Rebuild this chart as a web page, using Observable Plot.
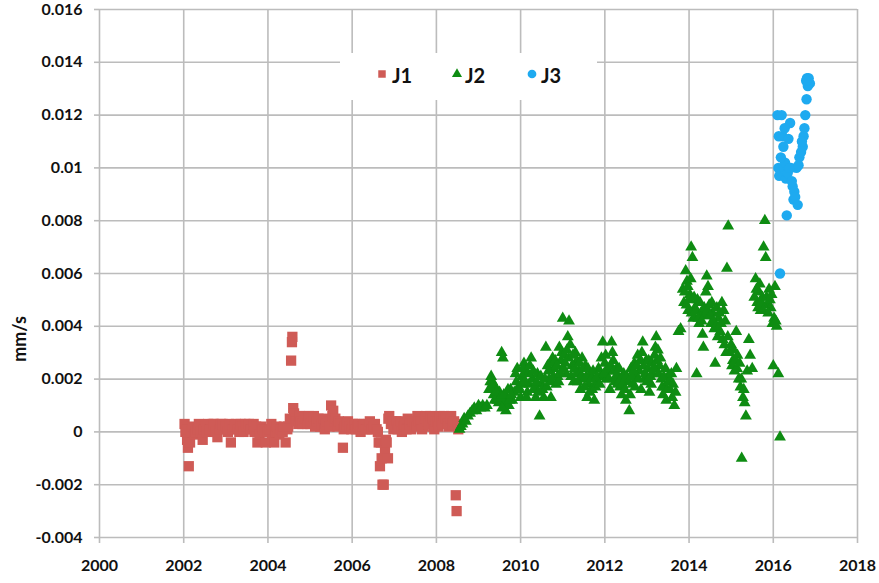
<!DOCTYPE html>
<html>
<head>
<meta charset="utf-8">
<script src="https://cdn.jsdelivr.net/npm/d3@7"></script>
<script src="https://cdn.jsdelivr.net/npm/@observablehq/plot@0.6"></script>
<style>
  html, body { margin: 0; padding: 0; background: #fff; }
  #wrap { position: relative; width: 879px; height: 583px; font-family: Lato, "Open Sans", sans-serif; }
  #ylabel { position: absolute; left: 19px; top: 339px; transform: translate(-50%, -50%) rotate(-90deg);
            font-weight: bold; font-size: 18px; color: #111; white-space: nowrap; }
  #legend { position: absolute; left: 340px; top: 53px; width: 257px; height: 47px; background: #fff; }
  .lg-sym { position: absolute; }
  .lg-txt { position: absolute; font-weight: bold; font-size: 20px; color: #111; line-height: 1; }
</style>
</head>
<body>
<div id="wrap">
  <div id="chart"></div>
  <div id="ylabel">mm/s</div>
  <div id="legend"></div>
</div>
<script>
// ---- Data (year, mm/s) ----
const seriesNames = ["J1", "J2", "J3"];
const seriesColors = ["#cf5b56", "#0e8c12", "#1eaaf0"];

const j1Data = [
  [2002.02,0.0003],[2002.04,0.0000],[2002.06,0.0001],[2002.08,-0.0003],[2002.10,-0.0006],[2002.12,-0.0013],
  [2002.15,-0.0004],[2002.18,0.0000],[2002.22,0.0002],[2002.25,-0.0001],[2002.29,0.0000],[2002.32,0.0001],
  [2002.36,0.0003],[2002.40,0.0000],[2002.45,-0.0003],[2002.48,0.0001],[2002.52,0.0002],[2002.55,0.0000],
  [2002.58,0.0003],[2002.62,0.0001],[2002.65,0.0001],[2002.69,0.0003],[2002.72,0.0003],[2002.76,0.0000],
  [2002.80,-0.0002],[2002.85,0.0001],[2002.88,0.0003],[2002.92,0.0003],[2002.96,0.0001],[2003.00,0.0002],
  [2003.05,0.0000],[2003.08,0.0003],[2003.12,-0.0004],[2003.16,0.0001],[2003.20,0.0002],[2003.24,0.0003],
  [2003.28,0.0001],[2003.32,0.0000],[2003.35,0.0003],[2003.39,0.0002],[2003.42,0.0000],[2003.46,0.0003],
  [2003.50,0.0002],[2003.55,0.0003],[2003.58,0.0001],[2003.62,0.0001],[2003.66,0.0003],[2003.68,0.0000],
  [2003.72,0.0002],[2003.75,-0.0004],[2003.80,-0.0001],[2003.84,0.0002],[2003.88,0.0001],[2003.92,0.0000],
  [2003.95,-0.0004],[2004.00,0.0000],[2004.05,0.0001],[2004.08,0.0003],[2004.10,-0.0003],[2004.15,-0.0004],
  [2004.18,0.0000],[2004.20,0.0002],[2004.24,0.0000],[2004.27,-0.0001],[2004.31,0.0001],[2004.35,0.0000],
  [2004.38,0.0002],[2004.42,-0.0004],[2004.46,0.0001],[2004.48,0.0002],[2004.52,0.0005],[2004.55,0.0027],
  [2004.57,0.0034],[2004.58,0.0036],[2004.60,0.0009],[2004.62,0.0007],[2004.65,0.0005],[2004.68,0.0004],
  [2004.72,0.0003],[2004.75,0.0006],[2004.78,0.0004],[2004.82,0.0003],[2004.86,0.0006],[2004.90,0.0005],
  [2004.94,0.0003],[2004.97,0.0006],[2005.01,0.0003],[2005.05,0.0004],[2005.09,0.0006],[2005.12,0.0002],
  [2005.16,0.0004],[2005.20,0.0005],[2005.24,0.0002],[2005.28,0.0003],[2005.32,0.0005],[2005.35,0.0001],
  [2005.38,0.0003],[2005.42,0.0004],[2005.46,0.0002],[2005.50,0.0010],[2005.53,0.0006],[2005.55,0.0008],
  [2005.58,0.0004],[2005.60,0.0005],[2005.65,0.0002],[2005.68,0.0004],[2005.72,0.0003],[2005.78,-0.0006],
  [2005.80,0.0001],[2005.82,0.0002],[2005.86,0.0003],[2005.90,0.0004],[2005.94,0.0002],[2005.98,0.0001],
  [2006.02,0.0003],[2006.05,0.0003],[2006.09,0.0001],[2006.12,0.0002],[2006.16,0.0003],[2006.20,0.0000],
  [2006.24,0.0002],[2006.28,0.0003],[2006.32,0.0001],[2006.35,0.0001],[2006.39,0.0003],[2006.42,0.0004],
  [2006.46,0.0001],[2006.50,0.0002],[2006.54,0.0003],[2006.58,0.0001],[2006.61,0.0000],[2006.63,-0.0004],
  [2006.66,-0.0013],[2006.68,-0.0004],[2006.70,-0.0010],[2006.72,-0.0020],[2006.75,-0.0020],[2006.78,-0.0007],
  [2006.80,-0.0003],[2006.82,-0.0004],[2006.85,-0.0010],[2006.86,0.0005],[2006.88,0.0006],[2006.92,0.0003],
  [2006.95,0.0004],[2006.98,0.0001],[2007.02,0.0002],[2007.05,0.0004],[2007.08,0.0001],[2007.10,0.0002],
  [2007.14,0.0004],[2007.18,0.0000],[2007.22,0.0002],[2007.25,0.0003],[2007.29,0.0001],[2007.32,0.0005],
  [2007.36,0.0003],[2007.40,0.0001],[2007.44,0.0004],[2007.48,0.0003],[2007.52,0.0002],[2007.55,0.0006],
  [2007.58,0.0004],[2007.62,0.0004],[2007.66,0.0001],[2007.70,0.0002],[2007.73,0.0005],[2007.75,0.0006],
  [2007.78,0.0004],[2007.82,0.0003],[2007.86,0.0006],[2007.90,0.0005],[2007.93,0.0002],[2007.95,0.0001],
  [2007.98,0.0004],[2008.02,0.0004],[2008.05,0.0002],[2008.08,0.0006],[2008.12,0.0004],[2008.15,0.0003],
  [2008.18,0.0006],[2008.22,0.0005],[2008.26,0.0003],[2008.30,0.0002],[2008.33,0.0005],[2008.35,0.0006],
  [2008.39,0.0003],[2008.42,0.0004],[2008.46,-0.0024],[2008.48,-0.0030],[2008.50,0.0003],[2008.52,0.0001]
];

const j2Data = [
  [2008.55,0.0001],[2008.58,0.0002],[2008.62,0.0003],[2008.66,0.0005],[2008.70,0.0004],[2008.75,0.0006],
  [2008.80,0.0007],[2008.85,0.0008],[2008.90,0.0009],[2008.95,0.0008],[2009.00,0.0010],[2009.05,0.0009],
  [2009.10,0.0010],[2009.15,0.0009],[2009.20,0.0010],[2009.25,0.0016],[2009.30,0.0021],[2009.33,0.0019],
  [2009.36,0.0014],[2009.40,0.0017],[2009.45,0.0012],[2009.50,0.0015],[2009.55,0.0030],[2009.58,0.0028],
  [2009.62,0.0011],[2009.65,0.0008],[2009.68,0.0013],[2009.72,0.0010],[2009.76,0.0016],[2009.80,0.0012],
  [2009.85,0.0015],[2009.90,0.0019],[2009.95,0.0017],[2010.00,0.0013],[2010.04,0.0021],[2010.08,0.0026],
  [2010.12,0.0023],[2010.16,0.0015],[2010.20,0.0018],[2010.25,0.0028],[2010.28,0.0020],[2010.32,0.0016],
  [2010.36,0.0013],[2010.40,0.0022],[2010.45,0.0006],[2010.50,0.0018],[2010.55,0.0013],[2010.60,0.0032],
  [2010.64,0.0025],[2010.68,0.0020],[2010.72,0.0013],[2010.76,0.0028],[2010.80,0.0024],[2010.84,0.0018],
  [2010.88,0.0021],[2010.92,0.0032],[2010.96,0.0027],[2011.00,0.0043],[2011.04,0.0029],[2011.08,0.0022],
  [2011.12,0.0036],[2011.15,0.0042],[2011.18,0.0033],[2011.22,0.0025],[2011.26,0.0019],[2011.30,0.0030],
  [2011.34,0.0027],[2011.38,0.0023],[2011.42,0.0016],[2011.46,0.0028],[2011.50,0.0020],[2011.54,0.0025],
  [2011.58,0.0013],[2011.62,0.0018],[2011.66,0.0022],[2011.70,0.0016],[2011.75,0.0012],[2011.80,0.0019],
  [2011.85,0.0024],[2011.90,0.0021],[2011.95,0.0034],[2012.00,0.0026],[2012.04,0.0020],[2012.08,0.0023],
  [2012.12,0.0016],[2012.16,0.0034],[2012.20,0.0027],[2012.24,0.0019],[2012.28,0.0024],[2012.32,0.0021],
  [2012.36,0.0017],[2012.40,0.0014],[2012.45,0.0022],[2012.50,0.0012],[2012.55,0.0019],[2012.58,0.0008],
  [2012.62,0.0024],[2012.66,0.0018],[2012.70,0.0026],[2012.74,0.0021],[2012.78,0.0029],[2012.82,0.0023],
  [2012.86,0.0016],[2012.90,0.0034],[2012.94,0.0020],[2012.98,0.0027],[2013.02,0.0024],[2013.06,0.0015],
  [2013.10,0.0018],[2013.14,0.0022],[2013.18,0.0029],[2013.22,0.0036],[2013.26,0.0031],[2013.30,0.0025],
  [2013.34,0.0020],[2013.38,0.0014],[2013.42,0.0017],[2013.46,0.0012],[2013.50,0.0021],[2013.55,0.0016],
  [2013.60,0.0013],[2013.65,0.0010],[2013.70,0.0024],[2013.75,0.0038],[2013.80,0.0039],[2013.85,0.0054],
  [2013.88,0.0049],[2013.92,0.0061],[2013.95,0.0057],[2013.98,0.0046],[2014.02,0.0052],[2014.05,0.0070],
  [2014.08,0.0066],[2014.10,0.0043],[2014.14,0.0047],[2014.18,0.0022],[2014.20,0.0050],[2014.24,0.0041],
  [2014.28,0.0045],[2014.32,0.0037],[2014.34,0.0032],[2014.38,0.0044],[2014.42,0.0059],[2014.45,0.0055],
  [2014.48,0.0048],[2014.52,0.0041],[2014.56,0.0045],[2014.60,0.0039],[2014.62,0.0026],[2014.66,0.0047],
  [2014.70,0.0043],[2014.74,0.0038],[2014.78,0.0049],[2014.82,0.0046],[2014.86,0.0042],[2014.90,0.0062],
  [2014.93,0.0078],[2014.96,0.0030],[2015.00,0.0033],[2015.04,0.0027],[2015.08,0.0023],[2015.12,0.0038],
  [2015.15,0.0029],[2015.18,0.0020],[2015.22,0.0017],[2015.25,-0.0010],[2015.28,0.0013],[2015.32,0.0011],
  [2015.35,0.0006],[2015.38,0.0023],[2015.42,0.0035],[2015.45,0.0029],[2015.50,0.0024],[2015.55,0.0051],
  [2015.58,0.0058],[2015.62,0.0049],[2015.66,0.0053],[2015.70,0.0046],[2015.74,0.0051],[2015.77,0.0070],
  [2015.80,0.0080],[2015.82,0.0066],[2015.86,0.0048],[2015.90,0.0054],[2015.94,0.0047],[2015.98,0.0041],
  [2016.00,0.0025],[2016.04,0.0055],[2016.08,0.0040],[2016.12,0.0022],[2016.16,-0.0002],
  [2009.28,0.0019],[2009.32,0.0017],[2009.38,0.0012],[2009.42,0.0015],[2009.48,0.0011],[2009.52,0.0013],
  [2009.56,0.0009],[2009.60,0.0014],[2009.70,0.0016],[2009.74,0.0012],[2009.78,0.0014],[2009.88,0.0022],
  [2009.92,0.0024],[2009.97,0.0016],[2010.02,0.0018],[2010.06,0.0024],[2010.10,0.0019],[2010.14,0.0013],
  [2010.18,0.0022],[2010.22,0.0025],[2010.30,0.0023],[2010.34,0.0017],[2010.38,0.0019],[2010.42,0.0015],
  [2010.48,0.0021],[2010.52,0.0016],[2010.58,0.0020],[2010.62,0.0017],[2010.66,0.0023],[2010.70,0.0026],
  [2010.74,0.0019],[2010.78,0.0021],[2010.82,0.0027],[2010.86,0.0025],[2010.90,0.0019],[2010.94,0.0022],
  [2010.98,0.0030],[2011.02,0.0024],[2011.06,0.0026],[2011.10,0.0031],[2011.14,0.0028],[2011.20,0.0021],
  [2011.24,0.0029],[2011.28,0.0024],[2011.32,0.0022],[2011.36,0.0019],[2011.40,0.0026],[2011.44,0.0021],
  [2011.48,0.0024],[2011.52,0.0017],[2011.56,0.0021],[2011.60,0.0024],[2011.64,0.0015],[2011.68,0.0020],
  [2011.72,0.0023],[2011.78,0.0017],[2011.82,0.0021],[2011.88,0.0018],[2011.92,0.0028],[2011.98,0.0022],
  [2012.02,0.0029],[2012.06,0.0024],[2012.10,0.0020],[2012.14,0.0025],[2012.18,0.0030],[2012.22,0.0023],
  [2012.26,0.0021],[2012.30,0.0018],[2012.34,0.0024],[2012.38,0.0020],[2012.42,0.0018],[2012.48,0.0016],
  [2012.52,0.0021],[2012.60,0.0014],[2012.64,0.0021],[2012.68,0.0023],[2012.72,0.0017],[2012.76,0.0025],
  [2012.80,0.0020],[2012.84,0.0027],[2012.88,0.0030],[2012.92,0.0025],[2012.96,0.0022],[2013.00,0.0019],
  [2013.04,0.0027],[2013.08,0.0021],[2013.12,0.0026],[2013.16,0.0024],[2013.20,0.0032],[2013.24,0.0027],
  [2013.28,0.0022],[2013.32,0.0028],[2013.36,0.0017],[2013.40,0.0021],[2013.44,0.0024],[2013.48,0.0016],
  [2013.52,0.0019],[2013.58,0.0022],[2013.62,0.0018],[2013.68,0.0015],
  [2013.90,0.0053],[2013.94,0.0048],[2013.97,0.0055],[2014.00,0.0050],[2014.04,0.0058],[2014.06,0.0045],
  [2014.12,0.0051],[2014.16,0.0046],[2014.22,0.0043],[2014.26,0.0049],[2014.30,0.0042],[2014.36,0.0047],
  [2014.40,0.0053],[2014.44,0.0046],[2014.50,0.0044],[2014.54,0.0049],[2014.58,0.0042],[2014.64,0.0040],
  [2014.68,0.0036],[2014.72,0.0045],[2014.76,0.0041],[2014.80,0.0035],[2014.84,0.0033],[2014.88,0.0030],
  [2014.92,0.0036],[2015.02,0.0025],[2015.06,0.0031],[2015.10,0.0027],[2015.14,0.0024],[2015.20,0.0026],
  [2015.24,0.0020],[2015.30,0.0016],[2015.60,0.0054],[2015.64,0.0047],[2015.68,0.0056],[2015.72,0.0049],
  [2015.76,0.0046],[2015.84,0.0051],[2015.88,0.0045],[2015.92,0.0050],[2015.96,0.0052],[2016.02,0.0043],
  [2016.06,0.0042]
];

const j3Data = [
  [2016.10,0.0120],[2016.12,0.0100],[2016.14,0.0097],[2016.16,0.0060],[2016.20,0.0120],[2016.22,0.0112],
  [2016.25,0.0100],[2016.28,0.0102],[2016.30,0.0096],[2016.32,0.0082],[2016.36,0.0111],[2016.40,0.0117],
  [2016.42,0.0100],[2016.46,0.0093],[2016.48,0.0088],[2016.50,0.0091],[2016.55,0.0100],[2016.58,0.0086],
  [2016.62,0.0104],[2016.66,0.0106],[2016.70,0.0108],[2016.72,0.0112],[2016.76,0.0120],[2016.79,0.0126],
  [2016.80,0.0134],[2016.84,0.0134],[2016.87,0.0132],
  [2016.13,0.0112],[2016.18,0.0104],[2016.24,0.0108],[2016.27,0.0115],[2016.34,0.0098],[2016.38,0.0100],
  [2016.44,0.0095],[2016.52,0.0089],[2016.60,0.0101],[2016.68,0.0110],[2016.74,0.0115],[2016.82,0.0131],
  [2016.78,0.0133]
];

const xTicks = [2000, 2002, 2004, 2006, 2008, 2010, 2012, 2014, 2016, 2018];
const yTicks = [-0.004, -0.002, 0, 0.002, 0.004, 0.006, 0.008, 0.01, 0.012, 0.014, 0.016];
const yTickLabels = ["-0.004", "-0.002", "0", "0.002", "0.004", "0.006", "0.008", "0.01", "0.012", "0.014", "0.016"];

const gridColor = "#bcbcbc";
const fx = d => d[0], fy = d => d[1];

const chart = Plot.plot({
  width: 879,
  height: 583,
  marginLeft: 99,
  marginRight: 22,
  marginTop: 9,
  marginBottom: 46,
  style: { fontFamily: "Lato, 'Open Sans', sans-serif", fontSize: "16px", fontWeight: "bold", color: "#111", background: "#fff" },
  x: { domain: [2000, 2018] },
  y: { domain: [-0.004, 0.016] },
  marks: [
    Plot.gridX(xTicks, { stroke: gridColor, strokeOpacity: 1, strokeWidth: 1.6 }),
    Plot.gridY(yTicks, { stroke: gridColor, strokeOpacity: 1, strokeWidth: 1.6 }),
    Plot.axisX(xTicks, { tickSize: 6, tickPadding: 16, stroke: gridColor, strokeWidth: 1.6, fill: "#111",
                         tickFormat: d => String(d), label: null }),
    Plot.axisY(yTicks, { tickSize: 5, tickPadding: 12, stroke: gridColor, strokeWidth: 1.6, fill: "#111",
                         tickFormat: d => yTickLabels[yTicks.indexOf(d)], label: null }),
    Plot.dot(j1Data, { x: fx, y: fy, symbol: "square", r: 5.8, fill: seriesColors[0] }),
    Plot.dot(j2Data, { x: fx, y: fy, symbol: "triangle", r: 4.4, fill: seriesColors[1] }),
    Plot.dot(j3Data, { x: fx, y: fy, symbol: "circle", r: 5.2, fill: seriesColors[2] })
  ]
});
document.getElementById("chart").appendChild(chart);

// ---- Legend (inside plot area, top) ----
const legend = document.getElementById("legend");
const legendSymbols = ["square", "triangle", "circle"];
const legendSymX = [42, 117, 192];   // relative to legend box
const legendTxtX = [52, 125, 201];
legendSymbols.forEach((s, i) => {
  const svgNS = "http://www.w3.org/2000/svg";
  const svg = document.createElementNS(svgNS, "svg");
  svg.setAttribute("width", 14); svg.setAttribute("height", 14);
  svg.setAttribute("class", "lg-sym");
  svg.style.left = (legendSymX[i] - 7) + "px";
  svg.style.top = (21 - 7) + "px";
  const p = document.createElementNS(svgNS, "path");
  const sym = { square: d3.symbolSquare, triangle: d3.symbolTriangle, circle: d3.symbolCircle }[s];
  const size = { square: 56, triangle: 44, circle: 60 }[s];
  p.setAttribute("d", d3.symbol(sym, size)());
  p.setAttribute("transform", "translate(7,7)");
  p.setAttribute("fill", seriesColors[i]);
  svg.appendChild(p);
  legend.appendChild(svg);
  const t = document.createElement("div");
  t.className = "lg-txt";
  t.textContent = seriesNames[i];
  t.style.left = legendTxtX[i] + "px";
  t.style.top = "12px";
  legend.appendChild(t);
});
</script>
</body>
</html>
